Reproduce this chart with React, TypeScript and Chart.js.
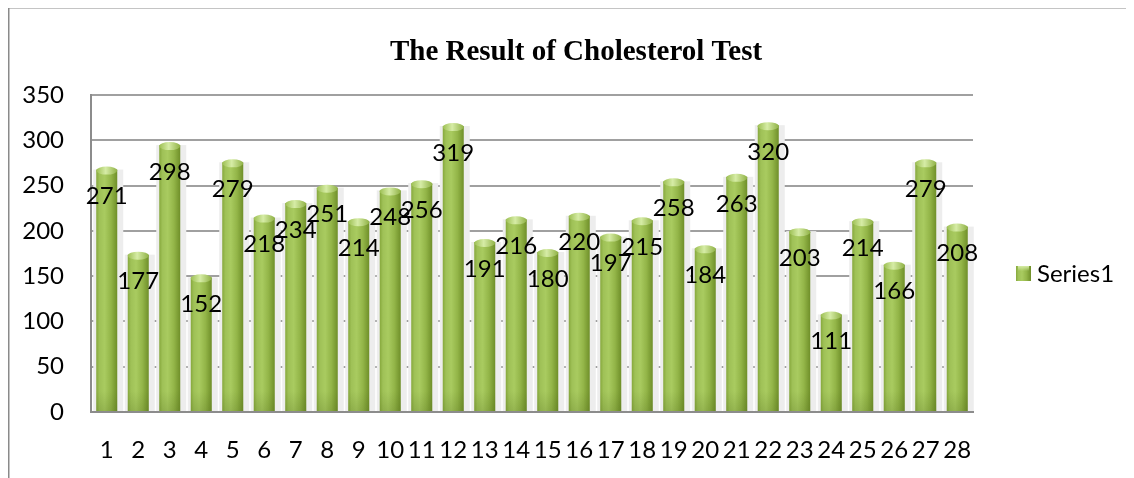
import React, { useEffect, useRef } from "react";
import { Chart, registerables } from "chart.js";

Chart.register(...registerables);

const categories: string[] = Array.from({ length: 28 }, (_, i) => String(i + 1));
const values: number[] = [271, 177, 298, 152, 279, 218, 234, 251, 214, 248, 256, 319, 191, 216, 180, 220, 197, 215, 258, 184, 263, 320, 203, 111, 214, 166, 279, 208];
const yTicks: number[] = [0, 50, 100, 150, 200, 250, 300, 350];
const seriesName = "Series1";
const titleText = "The Result of Cholesterol Test";

const FONT = "Lato";
const FSIZE = 24;

function bodyGradient(ctx: CanvasRenderingContext2D, x0: number, x1: number) {
  const g = ctx.createLinearGradient(x0, 0, x1, 0);
  g.addColorStop(0, "#86a83c");
  g.addColorStop(0.15, "#9fc157");
  g.addColorStop(0.4, "#a9cb60");
  g.addColorStop(0.7, "#93b548");
  g.addColorStop(1, "#6f8f29");
  return g;
}

const painter = {
  id: "painter",
  beforeDatasetsDraw(chart: any) {
    const ctx = chart.ctx as CanvasRenderingContext2D;
    const meta = chart.getDatasetMeta(0);
    ctx.save();
    meta.data.forEach((el: any) => {
      const { x, y, base, width } = el.getProps(["x", "y", "base", "width"], true);
      const l = x - width / 2;
      ctx.fillStyle = "#ededed";
      ctx.fillRect(l - 3, y + 3, width + 9, base - y - 3);
    });
    ctx.restore();
  },
  afterDatasetsDraw(chart: any) {
    const ctx = chart.ctx as CanvasRenderingContext2D;
    const meta = chart.getDatasetMeta(0);
    ctx.save();
    meta.data.forEach((el: any) => {
      const { x, y, base, width } = el.getProps(["x", "y", "base", "width"], true);
      const l = x - width / 2;
      const r = x + width / 2;
      ctx.fillStyle = bodyGradient(ctx, l, r);
      ctx.fillRect(l, y + 3, width, base - y - 3);
      const fg = ctx.createLinearGradient(0, base - 20, 0, base);
      fg.addColorStop(0, "rgba(70,95,20,0)");
      fg.addColorStop(1, "rgba(70,95,20,0.2)");
      ctx.fillStyle = fg;
      ctx.fillRect(l, base - 20, width, 20);
      const cg = ctx.createLinearGradient(l, 0, r, 0);
      cg.addColorStop(0, "#9cbf52");
      cg.addColorStop(0.45, "#d6eca6");
      cg.addColorStop(1, "#8fb145");
      ctx.fillStyle = cg;
      ctx.beginPath();
      ctx.ellipse(x, y + 4, width / 2, 4, 0, 0, Math.PI * 2);
      ctx.fill();
    });
    ctx.fillStyle = "#000";
    ctx.font = `${FSIZE}px ${FONT}`;
    ctx.textAlign = "center";
    ctx.textBaseline = "middle";
    meta.data.forEach((el: any, i: number) => {
      const { x, y } = el.getProps(["x", "y"], true);
      ctx.fillText(String(values[i]), x, y + 30);
    });
    ctx.restore();
  },
  afterDraw(chart: any) {
    const ctx = chart.ctx as CanvasRenderingContext2D;
    ctx.save();
    ctx.strokeStyle = "#8a8a8a";
    ctx.lineWidth = 1.5;
    ctx.beginPath();
    ctx.moveTo(0.75, chart.height);
    ctx.lineTo(0.75, 0.75);
    ctx.lineTo(chart.width, 0.75);
    ctx.stroke();
    ctx.fillStyle = "#000";
    ctx.font = "bold 29px 'Liberation Serif'";
    ctx.textAlign = "center";
    ctx.textBaseline = "middle";
    ctx.fillText(titleText, 568, 46);
    const lx = 1008, ly = 259, ls = 15;
    ctx.fillStyle = bodyGradient(ctx, lx, lx + ls);
    ctx.fillRect(lx, ly, ls, ls);
    const tg = ctx.createLinearGradient(0, ly, 0, ly + 5);
    tg.addColorStop(0, "#d6eca6");
    tg.addColorStop(1, "rgba(214,236,166,0)");
    ctx.fillStyle = tg;
    ctx.fillRect(lx + 2, ly, ls - 4, 5);
    ctx.fillStyle = "#000";
    ctx.font = `${FSIZE}px ${FONT}`;
    ctx.textAlign = "left";
    ctx.fillText(seriesName, 1029, ly + ls / 2 + 1);
    ctx.restore();
  },
};

export default function App() {
  const ref = useRef<HTMLCanvasElement | null>(null);
  useEffect(() => {
    if (!ref.current) return;
    const chart = new Chart(ref.current, {
      type: "bar",
      data: {
        labels: categories,
        datasets: [
          {
            label: seriesName,
            data: values,
            backgroundColor: "rgba(0,0,0,0)",
            borderWidth: 0,
            barPercentage: 0.667,
            categoryPercentage: 1,
          },
        ],
      },
      options: {
        responsive: false,
        animation: false,
        layout: { padding: { left: 0, right: 161, top: 88, bottom: 0 } },
        plugins: { legend: { display: false }, title: { display: false }, tooltip: { enabled: false } },
        scales: {
          x: {
            grid: { display: false, drawTicks: false },
            border: { display: true, color: "#8c8c8c", width: 2 },
            ticks: { color: "#000", font: { family: FONT, size: FSIZE }, padding: 24, maxRotation: 0, autoSkip: false },
            afterFit: (s: any) => { s.height = 66; },
          },
          y: {
            min: 0,
            max: 350,
            afterBuildTicks: (s: any) => { s.ticks = yTicks.map((v) => ({ value: v })); },
            grid: { color: "#a0a0a0", lineWidth: 2, drawTicks: false },
            border: { display: true, color: "#8c8c8c", width: 2 },
            ticks: { color: "#000", font: { family: FONT, size: FSIZE }, padding: 27 },
            afterFit: (s: any) => { s.width = 83; },
          },
        },
      },
      plugins: [painter],
    });
    return () => chart.destroy();
  }, []);
  return (
    <div style={{ marginTop: -1, width: 1126, height: 471 }}>
      <canvas ref={ref} width={1126} height={471} style={{ display: "block" }} />
    </div>
  );
}
